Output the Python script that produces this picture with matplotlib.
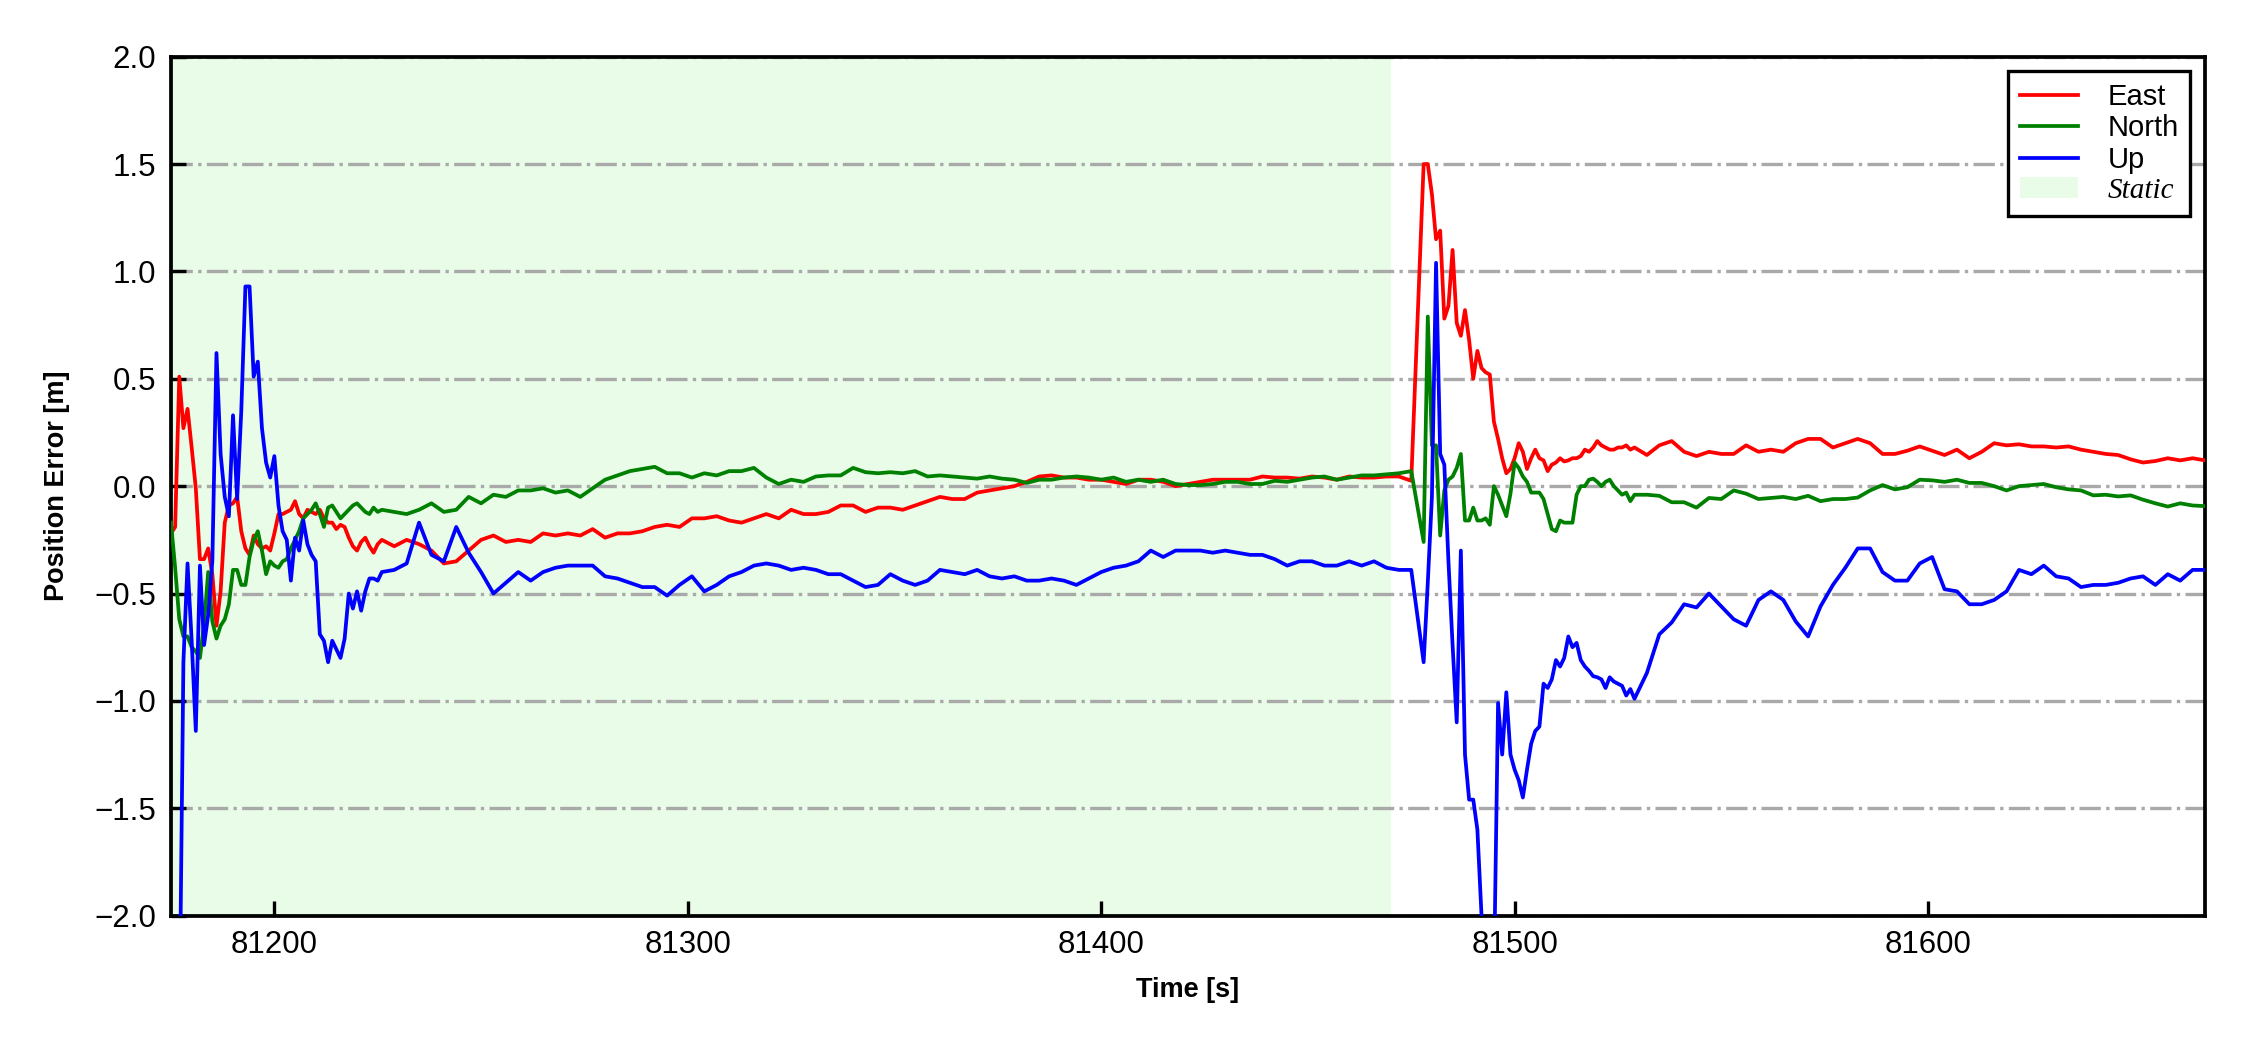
import numpy as np
import matplotlib
matplotlib.use('Agg')
import matplotlib.pyplot as plt
from matplotlib.patches import Patch
from matplotlib.ticker import MultipleLocator, FuncFormatter

plt.rcParams['font.family'] = ['Liberation Sans', 'DejaVu Sans']

# time stamps [s]: 1 s around the transients, 3 s elsewhere
t = np.concatenate([np.arange(81175, 81227), np.arange(81229, 81475, 3), [81475],
                    np.arange(81478, 81530), np.arange(81532, 81668, 3)])

static_start, static_end = 81175, 81470

# East error [m]
east_a = [-0.22, -0.19, 0.51, 0.27, 0.36, 0.18, -0.01, -0.34, -0.34, -0.29,
          -0.41, -0.65, -0.49, -0.17, -0.09, -0.08, -0.05, -0.21, -0.29, -0.32,
          -0.23, -0.27, -0.29, -0.28, -0.30, -0.22, -0.13, -0.13, -0.12, -0.11,
          -0.07, -0.13, -0.15, -0.11, -0.12, -0.13, -0.11, -0.15, -0.17, -0.17,
          -0.20, -0.18, -0.19, -0.24, -0.28, -0.30, -0.26, -0.24, -0.28, -0.31,
          -0.27, -0.25]
east_b = [-0.28, -0.25, -0.27, -0.30, -0.36, -0.35, -0.30, -0.25, -0.23, -0.26,
          -0.25, -0.26, -0.22, -0.23, -0.22, -0.23, -0.20, -0.24, -0.22, -0.22,
          -0.21, -0.19, -0.18, -0.19, -0.15, -0.15, -0.14, -0.16, -0.17, -0.15,
          -0.13, -0.15, -0.11, -0.13, -0.13, -0.12, -0.09, -0.09, -0.12, -0.10,
          -0.10, -0.11, -0.09, -0.07, -0.05, -0.06, -0.06, -0.03, -0.02, -0.01,
          0.00, 0.02, 0.045, 0.05, 0.04, 0.04, 0.03, 0.03, 0.02, 0.01,
          0.03, 0.03, 0.02, 0.00, 0.01, 0.02, 0.03, 0.03, 0.03, 0.03,
          0.045, 0.04, 0.04, 0.035, 0.045, 0.04, 0.03, 0.045, 0.04, 0.04,
          0.045, 0.045]
east_c = [0.025,
          1.50, 1.50, 1.36, 1.15, 1.19, 0.78, 0.84, 1.10, 0.76, 0.70,
          0.82, 0.68, 0.50, 0.63, 0.55, 0.53, 0.52, 0.30, 0.22, 0.13,
          0.06, 0.08, 0.13, 0.20, 0.16, 0.08, 0.13, 0.17, 0.13, 0.12,
          0.07, 0.10, 0.11, 0.13, 0.115, 0.12, 0.13, 0.13, 0.14, 0.17,
          0.16, 0.18, 0.21, 0.19, 0.18, 0.17, 0.17, 0.18, 0.18, 0.19,
          0.17, 0.18]
east_d = [0.145, 0.19, 0.21, 0.16, 0.14, 0.16, 0.15, 0.15, 0.19, 0.16,
          0.17, 0.16, 0.20, 0.22, 0.22, 0.18, 0.20, 0.22, 0.20, 0.15,
          0.15, 0.165, 0.185, 0.165, 0.145, 0.17, 0.13, 0.16, 0.20, 0.19,
          0.195, 0.185, 0.185, 0.18, 0.185, 0.17, 0.16, 0.15, 0.145, 0.125,
          0.11, 0.117, 0.13, 0.12, 0.13, 0.12]

# North error [m]
north_a = [-0.17, -0.38, -0.62, -0.70, -0.70, -0.75, -0.77, -0.80, -0.64, -0.40,
           -0.63, -0.71, -0.65, -0.62, -0.55, -0.39, -0.39, -0.46, -0.46, -0.33,
           -0.25, -0.21, -0.30, -0.41, -0.35, -0.37, -0.38, -0.35, -0.34, -0.29,
           -0.25, -0.21, -0.15, -0.13, -0.11, -0.08, -0.13, -0.19, -0.10, -0.09,
           -0.12, -0.15, -0.13, -0.11, -0.09, -0.08, -0.10, -0.12, -0.13, -0.10,
           -0.12, -0.11]
north_b = [-0.12, -0.13, -0.11, -0.08, -0.12, -0.11, -0.05, -0.08, -0.04, -0.05,
           -0.02, -0.02, -0.01, -0.03, -0.02, -0.05, -0.01, 0.03, 0.05, 0.07,
           0.08, 0.09, 0.06, 0.06, 0.04, 0.06, 0.05, 0.07, 0.07, 0.085,
           0.04, 0.01, 0.03, 0.02, 0.045, 0.05, 0.05, 0.085, 0.065, 0.06,
           0.065, 0.06, 0.07, 0.045, 0.05, 0.045, 0.04, 0.035, 0.045, 0.035,
           0.03, 0.015, 0.03, 0.03, 0.04, 0.045, 0.04, 0.03, 0.04, 0.02,
           0.03, 0.02, 0.03, 0.01, 0.005, 0.005, 0.01, 0.02, 0.02, 0.01,
           0.01, 0.025, 0.02, 0.03, 0.04, 0.045, 0.03, 0.04, 0.05, 0.05,
           0.055, 0.06]
north_c = [0.07,
           -0.26, 0.79, 0.19, 0.19, -0.23, -0.02, 0.03, 0.045, 0.085, 0.15,
           -0.16, -0.16, -0.10, -0.16, -0.16, -0.15, -0.18, 0.00, -0.04, -0.09,
           -0.14, -0.035, 0.11, 0.085, 0.045, 0.02, -0.03, -0.03, -0.03, -0.06,
           -0.13, -0.20, -0.21, -0.16, -0.17, -0.17, -0.17, -0.04, 0.00, 0.00,
           0.03, 0.035, 0.02, 0.00, 0.02, 0.03, 0.00, -0.02, -0.04, -0.03,
           -0.07, -0.04]
north_d = [-0.04, -0.045, -0.075, -0.075, -0.10, -0.055, -0.06, -0.02, -0.035, -0.06,
           -0.055, -0.05, -0.06, -0.045, -0.07, -0.06, -0.06, -0.053, -0.02, 0.005,
           -0.015, -0.005, 0.03, 0.027, 0.02, 0.03, 0.015, 0.015, 0.0, -0.02,
           0.0, 0.005, 0.01, -0.005, -0.015, -0.02, -0.043, -0.04, -0.048, -0.043,
           -0.063, -0.08, -0.095, -0.08, -0.09, -0.093]

# Up error [m]
up_a = [-4.5, -3.8, -2.6, -0.82, -0.36, -0.72, -1.14, -0.37, -0.74, -0.60,
        -0.35, 0.62, 0.15, -0.05, -0.14, 0.33, -0.06, 0.35, 0.93, 0.93,
        0.51, 0.58, 0.27, 0.11, 0.04, 0.14, -0.09, -0.21, -0.25, -0.44,
        -0.24, -0.30, -0.16, -0.27, -0.32, -0.35, -0.69, -0.72, -0.82, -0.72,
        -0.76, -0.80, -0.71, -0.50, -0.57, -0.49, -0.58, -0.49, -0.43, -0.43,
        -0.44, -0.40]
up_b = [-0.39, -0.36, -0.17, -0.32, -0.35, -0.19, -0.31, -0.40, -0.50, -0.45,
        -0.40, -0.44, -0.40, -0.38, -0.37, -0.37, -0.37, -0.42, -0.43, -0.45,
        -0.47, -0.47, -0.51, -0.46, -0.42, -0.49, -0.46, -0.42, -0.40, -0.37,
        -0.36, -0.37, -0.39, -0.38, -0.39, -0.41, -0.41, -0.44, -0.47, -0.46,
        -0.41, -0.44, -0.46, -0.44, -0.39, -0.40, -0.41, -0.39, -0.42, -0.43,
        -0.42, -0.44, -0.44, -0.43, -0.44, -0.46, -0.43, -0.40, -0.38, -0.37,
        -0.35, -0.30, -0.33, -0.30, -0.30, -0.30, -0.31, -0.30, -0.31, -0.32,
        -0.32, -0.34, -0.37, -0.35, -0.35, -0.37, -0.37, -0.35, -0.37, -0.35,
        -0.38, -0.39]
up_c = [-0.39,
        -0.82, -0.45, -0.05, 1.04, 0.15, 0.10, -0.35, -0.74, -1.10, -0.30,
        -1.25, -1.46, -1.46, -1.60, -2.0, -2.6, -2.6, -2.3, -1.01, -1.25,
        -0.96, -1.25, -1.32, -1.37, -1.45, -1.32, -1.20, -1.14, -1.12, -0.92,
        -0.94, -0.90, -0.81, -0.84, -0.80, -0.70, -0.75, -0.73, -0.81, -0.84,
        -0.86, -0.885, -0.89, -0.90, -0.94, -0.89, -0.91, -0.92, -0.93, -0.975,
        -0.945, -0.99]
up_d = [-0.87, -0.69, -0.635, -0.55, -0.565, -0.50, -0.56, -0.62, -0.65, -0.53,
        -0.49, -0.53, -0.63, -0.70, -0.56, -0.46, -0.38, -0.29, -0.29, -0.40,
        -0.44, -0.44, -0.36, -0.33, -0.48, -0.49, -0.55, -0.55, -0.53, -0.49,
        -0.39, -0.41, -0.37, -0.42, -0.43, -0.47, -0.46, -0.46, -0.45, -0.43,
        -0.42, -0.46, -0.41, -0.44, -0.39, -0.39]

east = np.concatenate([east_a, east_b, east_c, east_d])
north = np.concatenate([north_a, north_b, north_c, north_d])
up = np.concatenate([up_a, up_b, up_c, up_d])

fig = plt.figure(figsize=(7.5, 3.5), dpi=300)
ax = fig.add_axes([0.076, 0.128, 0.904, 0.818])

ax.axvspan(static_start, static_end, color='#e8fce8', lw=0, zorder=0)
ax.yaxis.grid(True, linestyle='-.', color='darkgray', lw=0.8, zorder=1)
ax.set_axisbelow(True)

l1, = ax.plot(t, east, color='red', lw=0.9, label='East', zorder=3)
l2, = ax.plot(t, north, color='green', lw=0.9, label='North', zorder=3)
l3, = ax.plot(t, up, color='blue', lw=0.9, label='Up', zorder=3)

ax.set_xlim(t[0], t[-1])
ax.set_ylim(-2, 2)
ax.xaxis.set_major_locator(MultipleLocator(100))
ax.set_yticks(np.arange(-2.0, 2.01, 0.5))
ax.yaxis.set_major_formatter(FuncFormatter(lambda v, p: f'{v:.1f}'.replace('-', '\u2212')))
ax.tick_params(direction='in', length=3.5, width=0.8, labelsize=7.5, top=False, right=False)
for s in ax.spines.values():
    s.set_linewidth(0.9)

ax.set_xlabel('Time [s]', fontsize=6.5, fontweight='bold')
ax.set_ylabel('Position Error [m]', fontsize=6.5, fontweight='bold', labelpad=6)

static_patch = Patch(facecolor='#e8fce8', edgecolor='none', label='Static')
leg = ax.legend(handles=[l1, l2, l3, static_patch], loc='upper right', fontsize=7,
                fancybox=False, edgecolor='black', framealpha=1, labelspacing=0.12,
                handlelength=2.0, handletextpad=1.0, borderpad=0.4)
leg.get_frame().set_linewidth(0.8)
txt = leg.get_texts()[3]
txt.set_fontfamily(['Liberation Serif', 'DejaVu Serif'])
txt.set_fontstyle('italic')

fig.savefig('out.png', dpi=300)
